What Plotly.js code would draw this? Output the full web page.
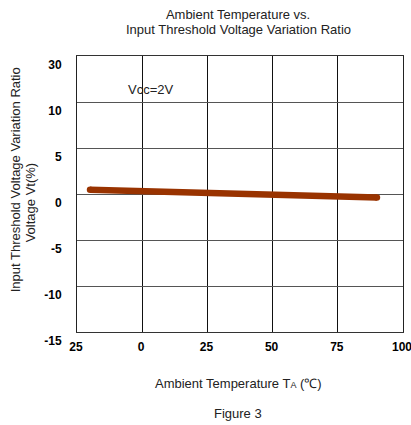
<!DOCTYPE html>
<html>
<head>
<meta charset="utf-8">
<script src="https://cdn.plot.ly/plotly-3.0.1.min.js"></script>
<style>html,body{margin:0;padding:0;background:#fff;}</style>
</head>
<body>
<div id="chart" style="width:411px;height:425px;"></div>
<script>
// Data
var temperature = [-20, 0, 25, 50, 75, 90];
var variation = [0.45, 0.3, 0.17, 0.0, -0.2, -0.38];
var xTickVals = [-25, 0, 25, 50, 75, 100];
var xTickText = ['25', '0', '25', '50', '75', '100'];
var yTickValues = [-15, -10, -5, 0, 5, 10, 30];
var yTickText = ['-15', '-10', '-5', '0', '5', '10', '30'];

// Non-uniform axis: each tick label occupies one equal band
function yPos(v) {
  for (var i = 0; i < yTickValues.length - 1; i++) {
    var a = yTickValues[i], b = yTickValues[i + 1];
    if (v <= b || i === yTickValues.length - 2) {
      return i + (v - a) / (b - a);
    }
  }
}
var yPositions = yTickValues.map(function (v, i) { return i; });

var font = 'Liberation Sans, Arial, sans-serif';
var fs = 13;
var tfs = 12;

var trace = {
  x: temperature,
  y: variation.map(yPos),
  type: 'scatter',
  mode: 'lines',
  line: {color: '#993300', width: 6.5},
  hoverinfo: 'skip',
  showlegend: false
};
var caps = {
  x: [temperature[0], temperature[temperature.length - 1]],
  y: [yPos(variation[0]), yPos(variation[variation.length - 1])],
  type: 'scatter',
  mode: 'markers',
  marker: {color: '#993300', size: 6.5},
  hoverinfo: 'skip',
  showlegend: false
};

var layout = {
  width: 411,
  height: 425,
  margin: {l: 77, r: 8, t: 56, b: 93, pad: 0},
  paper_bgcolor: '#fff',
  plot_bgcolor: '#fff',
  font: {family: font, size: fs, color: '#000'},
  title: {
    text: 'Ambient Temperature vs.',
    font: {family: font, size: fs, color: '#222'},
    xref: 'paper', yref: 'container',
    x: 0.494, xanchor: 'center',
    y: 1 - 14 / 425, yanchor: 'middle'
  },
  xaxis: {
    range: [-25, 100],
    tickvals: xTickVals,
    ticktext: xTickText,
    tickfont: {family: font, size: tfs, weight: 'bold', color: '#000'},
    ticklabeloverflow: 'allow',
    ticklabelshift: -1,
    showgrid: true,
    gridcolor: '#111',
    gridwidth: 1,
    zeroline: false,
    showline: true,
    linecolor: '#333',
    linewidth: 1,
    mirror: true,
    ticks: '',
    ticklabelstandoff: 4,
    fixedrange: true
  },
  yaxis: {
    range: [0, 6],
    tickvals: yPositions,
    ticktext: yTickText,
    tickfont: {family: font, size: tfs, weight: 'bold', color: '#000'},
    ticklabelshift: 9,
    ticklabelstandoff: 12,
    ticklabeloverflow: 'allow',
    showgrid: true,
    gridcolor: '#555',
    gridwidth: 1,
    zeroline: false,
    showline: true,
    linecolor: '#222',
    linewidth: 1,
    mirror: true,
    ticks: '',
    fixedrange: true
  },
  annotations: [
    {
      text: 'Input Threshold Voltage Variation Ratio',
      xref: 'paper', yref: 'paper',
      x: 0.494, y: 1 + 27 / 276, xanchor: 'center', yanchor: 'middle',
      showarrow: false,
      font: {family: font, size: fs, color: '#222'}
    },
    {
      text: 'Input Threshold Voltage Variation Ratio',
      xref: 'paper', yref: 'paper',
      x: -0.19, y: 0.55, xanchor: 'center', yanchor: 'middle',
      textangle: -90, showarrow: false,
      font: {family: font, size: fs, color: '#222'}
    },
    {
      text: 'Voltage Vt(%)',
      xref: 'paper', yref: 'paper',
      x: -0.144, y: 0.47, xanchor: 'center', yanchor: 'middle',
      textangle: -90, showarrow: false,
      font: {family: font, size: fs, color: '#222'}
    },
    {
      text: 'Vcc=2V',
      xref: 'x', yref: 'paper',
      x: 3, y: 0.88, xanchor: 'center', yanchor: 'middle',
      showarrow: false, bgcolor: 'rgba(255,255,255,0)',
      font: {family: font, size: fs, color: '#222'}
    },
    {
      text: 'Ambient Temperature T<span style="font-size:9px">A</span> (\u2103)',
      xref: 'paper', yref: 'paper',
      x: 0.494, y: 0, yshift: -51, xanchor: 'center', yanchor: 'middle',
      showarrow: false,
      font: {family: font, size: fs, color: '#222'}
    },
    {
      text: 'Figure 3',
      xref: 'paper', yref: 'paper',
      x: 0.494, y: 0, yshift: -81, xanchor: 'center', yanchor: 'middle',
      showarrow: false,
      font: {family: font, size: fs, color: '#222'}
    }
  ]
};

Plotly.newPlot('chart', [trace, caps], layout, {staticPlot: true, displayModeBar: false});
</script>
</body>
</html>
